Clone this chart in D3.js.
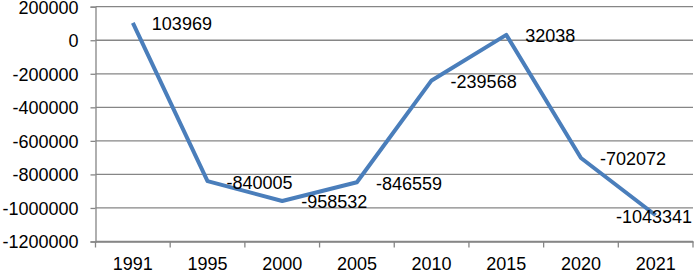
<!DOCTYPE html>
<html><head><meta charset="utf-8">
<script src="https://cdn.jsdelivr.net/npm/d3@7"></script>
<style>html,body{margin:0;padding:0;background:#fff;}svg{display:block;}</style>
</head><body>
<svg id="c" width="696" height="271"></svg>
<script>
const years = ["1991","1995","2000","2005","2010","2015","2020","2021"];
const values = [103969,-840005,-958532,-846559,-239568,32038,-702072,-1043341];
const yTicks = [200000,0,-200000,-400000,-600000,-800000,-1000000,-1200000];

const svg = d3.select("#c");
const pLeft = 95.5, pRight = 693, pTop = 6.7, pBottom = 241.5;
const font = "'Liberation Sans', Arial, sans-serif";
const fs = 18;
const axisColor = "#868686";
const fmt = d => String(d);

const x = d3.scaleBand().domain(years).range([pLeft, pRight]).padding(0);
const y = d3.scaleLinear().domain([-1200000, 200000]).range([pBottom, pTop]);

// gridlines
svg.append("g").selectAll("line").data(yTicks).join("line")
  .attr("x1", pLeft).attr("x2", pRight)
  .attr("y1", d => y(d)).attr("y2", d => y(d))
  .attr("stroke", axisColor).attr("stroke-width", 1.3);

// y axis
const yAxis = svg.append("g").attr("transform", `translate(${pLeft},0)`)
  .call(d3.axisLeft(y).tickValues(yTicks).tickSize(5).tickPadding(12).tickFormat(fmt));
yAxis.select(".domain").attr("stroke", axisColor).attr("stroke-width", 1.3);
yAxis.selectAll(".tick line").attr("stroke", axisColor).attr("stroke-width", 1.3);
yAxis.selectAll("text").attr("font-family", font).attr("font-size", fs).attr("fill", "#000")
  .attr("dy", "0.36em");

// x axis
const xAxis = svg.append("g").attr("transform", `translate(0,${pBottom})`)
  .call(d3.axisBottom(x).tickSize(0).tickPadding(16));
xAxis.select(".domain").attr("stroke", axisColor).attr("stroke-width", 1.3);
xAxis.selectAll("text").attr("font-family", font).attr("font-size", fs).attr("fill", "#000");
// tick marks at category boundaries
const bounds = years.map(d => x(d)).concat([x(years[years.length-1]) + x.bandwidth()]);
xAxis.append("g").selectAll("line").data(bounds).join("line")
  .attr("x1", d => d).attr("x2", d => d).attr("y1", 0).attr("y2", 6)
  .attr("stroke", axisColor).attr("stroke-width", 1.3);

// line
const cx = d => x(d) + x.bandwidth() / 2;
const line = d3.line().x((d, i) => cx(years[i])).y(d => y(d));
svg.append("path").datum(values).attr("d", line)
  .attr("fill", "none").attr("stroke", "#4A7EBB").attr("stroke-width", 4)
  .attr("stroke-linejoin", "round").attr("stroke-linecap", "butt");

// labels
const lbl = svg.append("g").selectAll("text").data(values).join("text")
  .attr("font-family", font).attr("font-size", fs).attr("fill", "#000")
  .attr("dy", "0.36em")
  .text(fmt)
  .attr("y", d => y(d) + 1)
  .attr("x", (d, i) => cx(years[i]) + 19);
lbl.each(function() {
  const w = this.getComputedTextLength();
  const xx = +this.getAttribute("x");
  if (xx + w > pRight - 1) this.setAttribute("x", pRight - 1 - w);
});
</script>
</body></html>
